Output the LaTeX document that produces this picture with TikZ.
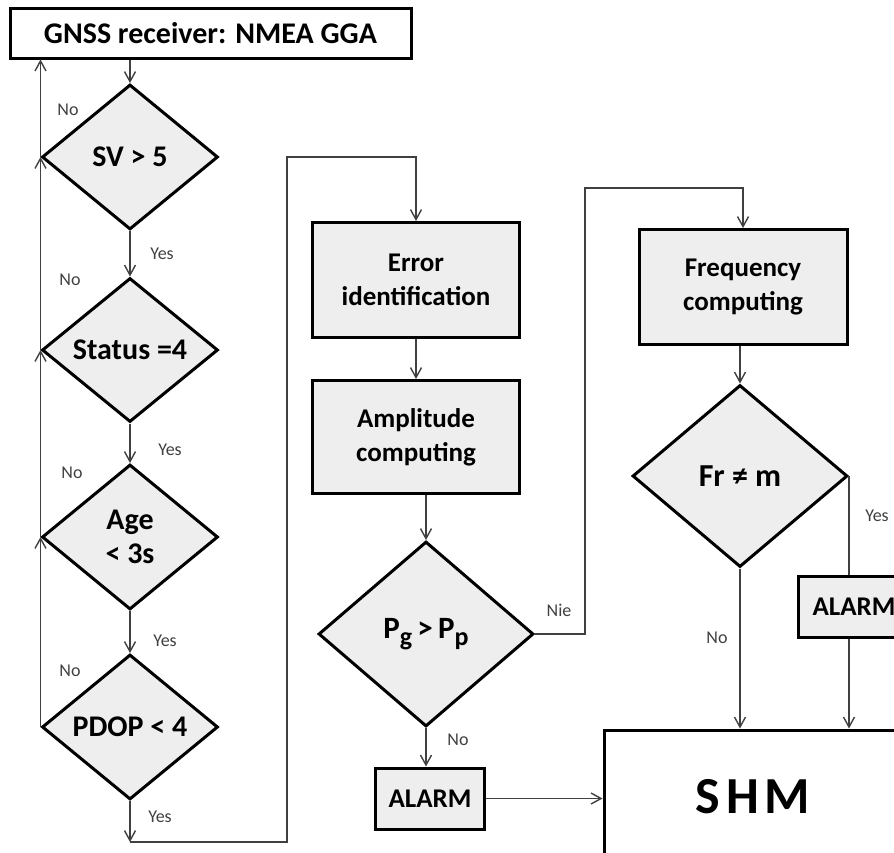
\documentclass[tikz,border=0pt]{standalone}
\usepackage{fontspec}
\setmainfont{Carlito}
\usetikzlibrary{shapes.geometric,arrows.meta}
\definecolor{boxgray}{HTML}{EEEEEE}
\definecolor{linegray}{HTML}{404040}
\begin{document}
\begin{tikzpicture}[x=0.5pt, y=-0.5pt,
    decision/.style={draw, diamond, shape aspect=1.2, line width=1.5pt, fill=boxgray, inner sep=0pt, align=center, font=\fontsize{15}{18}\selectfont\bfseries},
    process/.style={draw, rectangle, line width=1.5pt, fill=boxgray, inner sep=0pt, align=center, font=\fontsize{13.5}{17}\selectfont\bfseries},
    lbl/.style={text=linegray, inner sep=0pt, font=\fontsize{9}{10}\selectfont},
    link/.style={linegray, line width=0.7pt},
    >={Straight Barb[length=5pt,width=5.5pt]}]
        \clip (0, 0) rectangle (894, 852);
        % left column
        \node[draw, line width=1.5pt, fill=white, minimum width=200.5pt, minimum height=25pt, inner sep=0pt, font=\fontsize{15}{18}\selectfont\bfseries] (gnss) at (210.5, 33) {GNSS receiver: NMEA GGA};
        \node[decision, minimum width=88pt, minimum height=72.5pt] (sv) at (130, 157) {SV > 5};
        \node[decision, minimum width=88pt, minimum height=72pt] (status) at (130, 350) {Status =4};
        \node[decision, minimum width=88pt, minimum height=72.5pt, font=\fontsize{15}{17}\selectfont\bfseries] (age) at (130, 537) {Age\\< 3s};
        \node[decision, minimum width=88pt, minimum height=72.5pt] (pdop) at (130, 727) {PDOP < 4};
        \coordinate (c1) at (130, 842);
        \coordinate (c2) at (287, 157);
        % middle column
        \node[process, minimum width=103.5pt, minimum height=57.5pt] (err) at (416, 280) {Error\\identification};
        \node[process, minimum width=103.5pt, minimum height=56.5pt] (amp) at (416, 437) {Amplitude\\computing};
        \node[decision, minimum width=107.5pt, minimum height=92.5pt, font=\fontsize{15.5}{18}\selectfont\bfseries] (pg) at (426, 634) {P\raisebox{-3.5pt}{\fontsize{13}{13}\selectfont g}\,>\,P\raisebox{-3.5pt}{\fontsize{13}{13}\selectfont p}};
        \node[process, minimum width=54.5pt, minimum height=30.5pt] (alarm1) at (430, 798.5) {ALARM};
        \coordinate (c3) at (585, 188);
        % right column
        \node[process, minimum width=104pt, minimum height=57.5pt] (freq) at (743, 287) {Frequency\\computing};
        \node[decision, minimum width=107.5pt, minimum height=91pt, font=\fontsize{16}{18}\selectfont\bfseries] (fr) at (740, 476) {Fr ≠ m};
        \node[process, minimum width=56pt, minimum height=30.5pt] (alarm2) at (854, 606.5) {ALARM};
        \node[draw, line width=1.5pt, fill=white, minimum width=149pt, minimum height=67pt, inner sep=0pt, font=\fontsize{26}{30}\selectfont\bfseries] (shm) at (753, 797) {S\kern3pt H\kern3pt M};
        % yes / no labels
        \node[lbl] (no1) at (68, 110) {No};
        \node[lbl] (no2) at (70, 280) {No};
        \node[lbl] (no3) at (72, 473) {No};
        \node[lbl] (no4) at (70, 671) {No};
        \node[lbl] (yes1) at (162, 254) {Yes};
        \node[lbl] (yes2) at (170, 450) {Yes};
        \node[lbl] (yes3) at (165, 641) {Yes};
        \node[lbl] (yes4) at (160, 817) {Yes};
        \node[lbl] (no5) at (458, 740) {No};
        \node[lbl] (nie) at (559, 610) {Nie};
        \node[lbl] (yes5) at (877, 516) {Yes};
        \node[lbl] (no6) at (717, 638) {No};
        % connectors
        \draw[link, ->] (sv.north |- gnss.south) -- (sv.north);
        \draw[link, ->] (sv) -- (status);
        \draw[link, ->] (status) -- (age);
        \draw[link, ->] (age) -- (pdop);
        \draw[link, ->] (pdop) -- (c1);
        \draw[link, ->] (pdop.west) -- (age.west);
        \draw[link, ->] (age.west) -- (status.west);
        \draw[link, ->] (status.west) -- (sv.west);
        \draw[link, ->] (sv.west) -- (sv.west |- gnss.south);
        \draw[link, ->] (c1) -| (c2) -| (err);
        \draw[link, ->] (err) -- (amp);
        \draw[link, ->] (amp.south -| pg.north) -- (pg.north);
        \draw[link, ->] (pg.south) -- (pg.south |- alarm1.north);
        \draw[link, ->] (alarm1.east) -- (alarm1.east -| shm.west);
        \draw[link, ->] (pg.east) -| (c3) -| (freq);
        \draw[link, ->] (freq.south -| fr.north) -- (fr.north);
        \draw[link, ->] (fr.south) -- (fr.south |- shm.north);
        \draw[link] (fr.east) -- (fr.east |- alarm2.north);
        \draw[link, ->] (alarm2.south -| fr.east) -- (fr.east |- shm.north);
      \end{tikzpicture}
\end{document}
